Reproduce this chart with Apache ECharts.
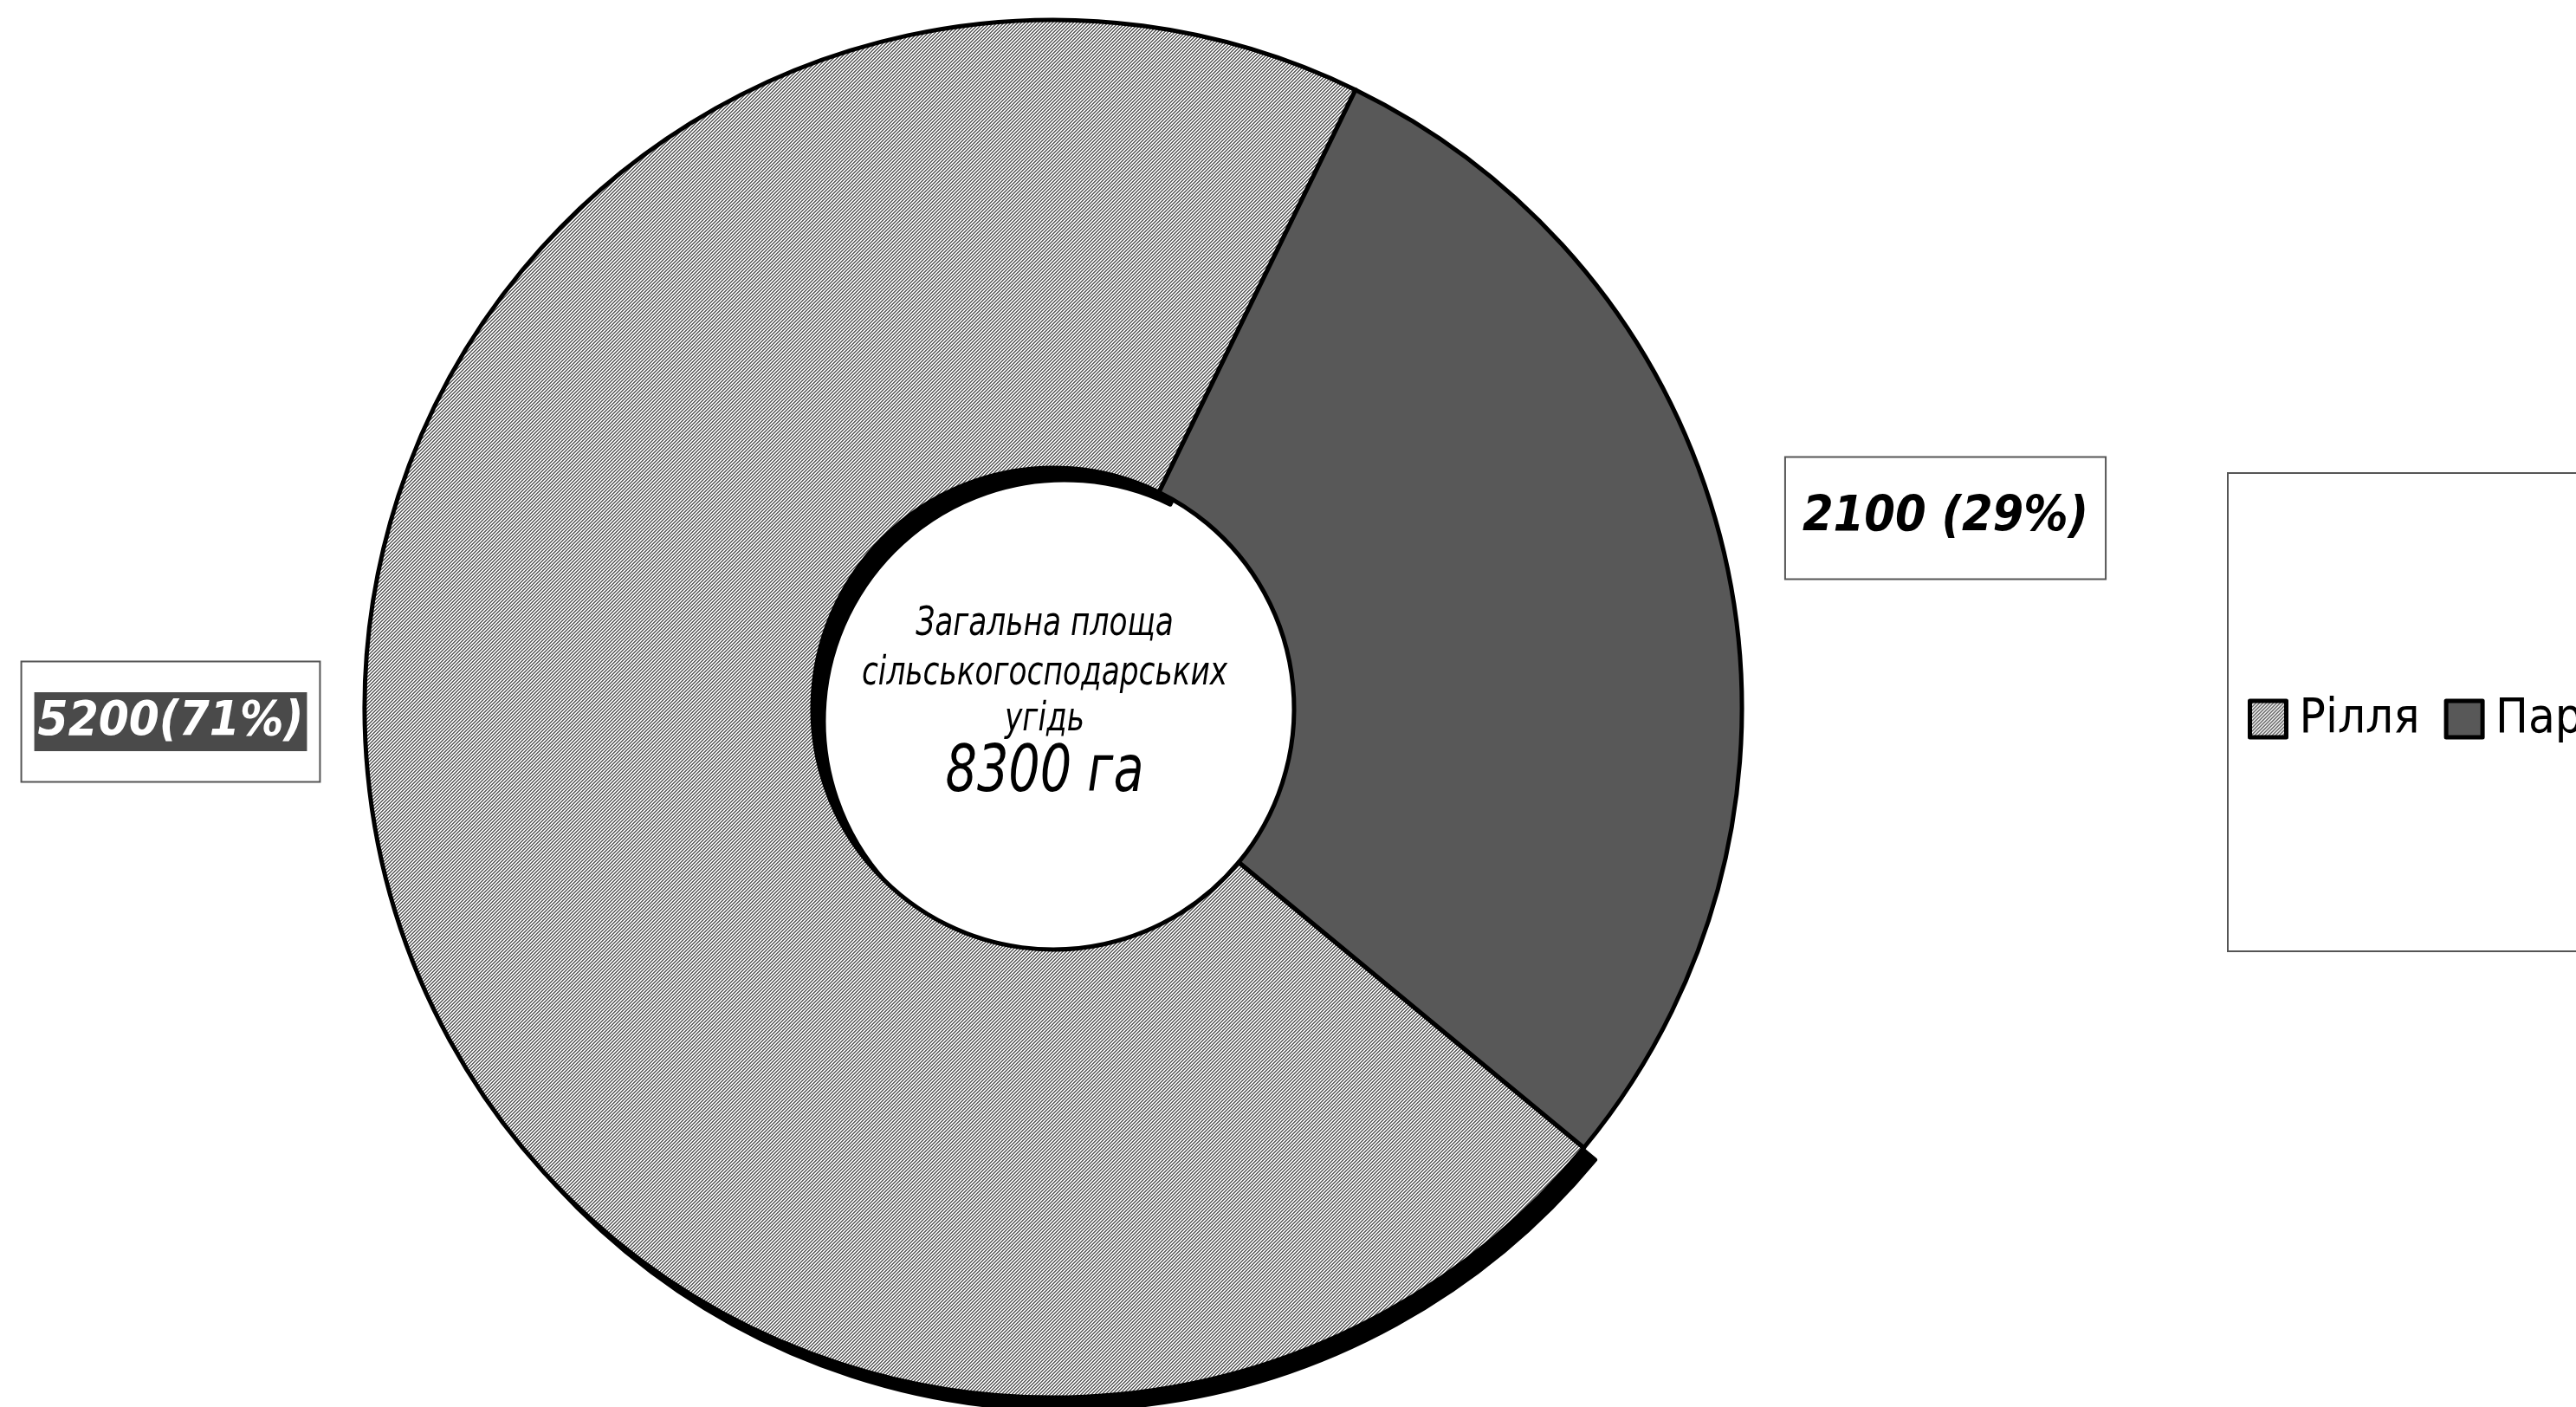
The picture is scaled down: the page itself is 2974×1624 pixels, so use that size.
<!DOCTYPE html>
<html>
<head>
<meta charset="utf-8">
<script src="https://cdn.jsdelivr.net/npm/echarts@6/dist/echarts.min.js"></script>
<style>
  html, body { margin: 0; padding: 0; background: #fff; }
  #chart { width: 2974px; height: 1624px; }
</style>
</head>
<body>
<div id="chart"></div>
<script>
// Land use structure (ha)
const categories = ['Рілля', 'Пар'];
const areaValues = [5200, 2100];
const centerLines = ['Загальна площа', 'сільськогосподарських', 'угідь'];
const totalLabel = '8300 га';

const FONT = "'DejaVu Sans Condensed', 'DejaVu Sans', sans-serif";

// Diagonal hatch used for the arable-land slice
function makeHatch() {
  const c = document.createElement('canvas');
  c.width = 4; c.height = 4;
  const g = c.getContext('2d');
  g.fillStyle = '#f4f4f4';
  g.fillRect(0, 0, 4, 4);
  g.fillStyle = '#666666';
  for (let x = 0; x < 4; x++) {
    for (let y = 0; y < 4; y++) {
      if ((x + y) % 4 < 2) g.fillRect(x, y, 1, 1);
    }
  }
  return c;
}
const hatchFill = { image: makeHatch(), repeat: 'repeat' };

// Ring geometry and label anchor points
const PIE_CENTER = [1216, 818];
const PIE_RADIUS = [278, 795];
const START_ANGLE = 320.4;
const SHADOW_SHIFT = [13, 14];
const labelAnchors = [
  { x: 197, y: 833 },
  { x: 2246, y: 598 }
];

function centerText(text, y, size, sx) {
  return {
    type: 'text', x: 1206, y: y, scaleX: sx, silent: true,
    style: {
      text: text, fontFamily: FONT, fontStyle: 'italic', fontSize: size,
      fill: '#000', align: 'center', verticalAlign: 'middle'
    }
  };
}

const chart = echarts.init(document.getElementById('chart'), null, { renderer: 'canvas' });

const option = {
  backgroundColor: '#fff',
  animation: false,
  legend: {
    orient: 'horizontal',
    left: 2572,
    top: 546,
    width: 800,
    padding: [256, 220, 240, 23],
    backgroundColor: '#fff',
    borderColor: '#555',
    borderWidth: 2,
    borderRadius: 0,
    itemWidth: 42,
    itemHeight: 42,
    itemGap: 28,
    icon: 'rect',
    selectedMode: false,
    itemStyle: { borderColor: '#000', borderWidth: 5 },
    textStyle: {
      fontFamily: FONT,
      fontSize: 56,
      color: '#000',
      padding: [0, 0, 0, 10]
    },
    data: categories
  },
  graphic: [
    centerText(centerLines[0], 721, 46, 0.83),
    centerText(centerLines[1], 778, 46, 0.83),
    centerText(centerLines[2], 831, 46, 0.83),
    centerText(totalLabel, 894, 74, 0.86)
  ],
  series: [
    {
      // main ring
      type: 'pie',
      z: 2,
      center: PIE_CENTER,
      radius: PIE_RADIUS,
      startAngle: START_ANGLE,
      clockwise: true,
      silent: true,
      avoidLabelOverlap: false,
      emphasis: { disabled: true },
      itemStyle: { borderColor: '#000', borderWidth: 5 },
      label: {
        show: true,
        position: 'outside',
        formatter: function (p) {
          const pct = Math.round(p.percent);
          return p.dataIndex === 0
            ? '{dark|' + p.value + '(' + pct + '%)}'
            : '{light|' + p.value + ' (' + pct + '%)}';
        },
        backgroundColor: '#fff',
        borderColor: '#555',
        borderWidth: 2,
        padding: [22, 14, 22, 14],
        rich: {
          dark: {
            fontFamily: FONT, fontStyle: 'italic', fontWeight: 'bold', fontSize: 56,
            color: '#fff', backgroundColor: '#4a4a4a',
            lineHeight: 93, padding: [6, 4, 6, 4]
          },
          light: {
            fontFamily: FONT, fontStyle: 'italic', fontWeight: 'bold', fontSize: 57,
            color: '#000',
            lineHeight: 95, padding: [6, 5, 6, 5]
          }
        }
      },
      labelLine: { show: false },
      labelLayout: function (params) {
        const a = labelAnchors[params.dataIndex];
        return { x: a.x, y: a.y, align: 'center', verticalAlign: 'middle' };
      },
      data: categories.map(function (name, i) {
        return {
          name: name,
          value: areaValues[i],
          itemStyle: { color: i === 0 ? hatchFill : '#585858' }
        };
      })
    },
    {
      // drop shadow of the arable-land slice, drawn beneath the ring
      type: 'pie',
      z: 1,
      center: [PIE_CENTER[0] + SHADOW_SHIFT[0], PIE_CENTER[1] + SHADOW_SHIFT[1]],
      radius: PIE_RADIUS,
      startAngle: START_ANGLE,
      clockwise: true,
      silent: true,
      legendHoverLink: false,
      emphasis: { disabled: true },
      label: { show: false },
      labelLine: { show: false },
      data: categories.map(function (name, i) {
        return {
          name: name,
          value: areaValues[i],
          itemStyle: i === 0
            ? { color: '#000', borderColor: '#000', borderWidth: 5 }
            : { color: 'rgba(0,0,0,0)', borderColor: 'rgba(0,0,0,0)', borderWidth: 0 }
        };
      })
    }
  ]
};

chart.setOption(option);
</script>
</body>
</html>
